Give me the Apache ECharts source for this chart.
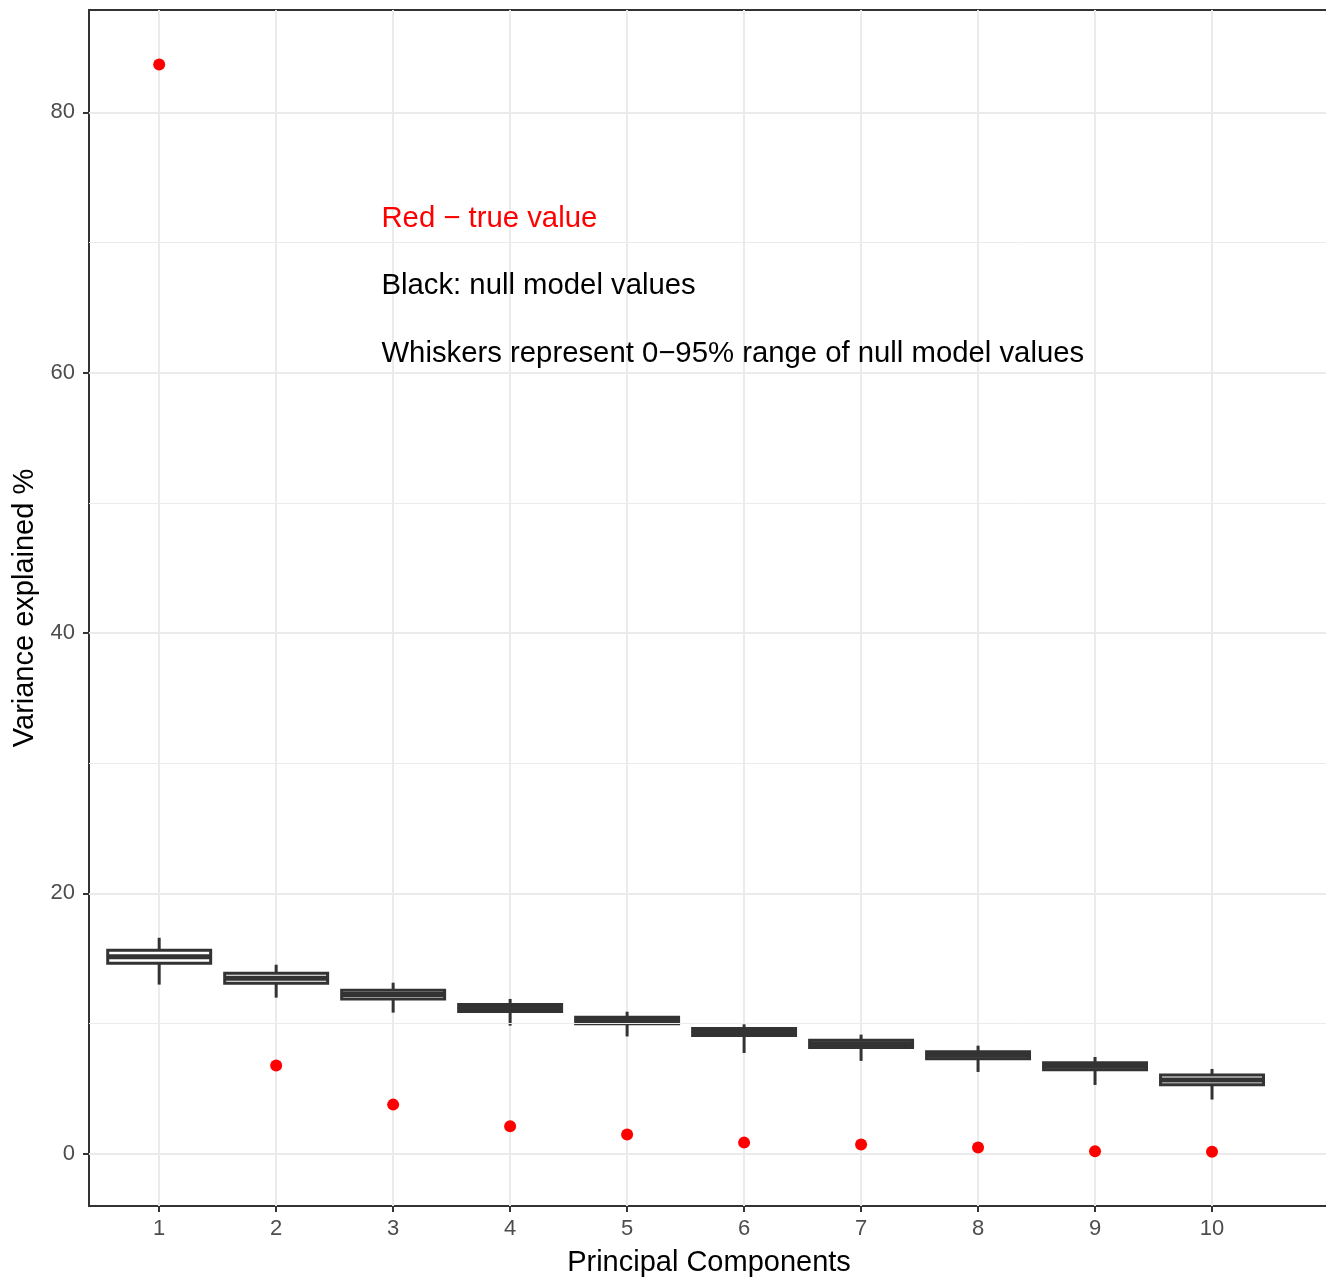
<!DOCTYPE html>
<html>
<head>
<meta charset="utf-8">
<title>Variance explained by principal components</title>
<script src="https://cdn.jsdelivr.net/npm/echarts@6/dist/echarts.min.js"></script>
<style>
  html, body { margin: 0; padding: 0; background: #ffffff; }
  #chart { width: 1326px; height: 1278px; }
</style>
</head>
<body>
<div id="chart"></div>
<script>
// Principal components on the x axis
const components = [1, 2, 3, 4, 5, 6, 7, 8, 9, 10];

// Observed variance explained (%) per component
const trueValues = [83.69, 6.76, 3.76, 2.10, 1.46, 0.84, 0.69, 0.46, 0.18, 0.13];

// Null model distribution per component: whisker ends, quartiles, median
const nullLow    = [12.98, 11.98, 10.83, 9.83, 9.00, 7.73, 7.12, 6.27, 5.27, 4.15];
const nullQ1     = [14.63, 13.09, 11.88, 10.92, 9.97, 9.07, 8.15, 7.28, 6.43, 5.28];
const nullMedian = [15.12, 13.47, 12.22, 11.19, 10.23, 9.34, 8.43, 7.55, 6.70, 5.66];
const nullQ3     = [15.62, 13.86, 12.55, 11.45, 10.48, 9.61, 8.71, 7.82, 6.97, 6.03];
const nullHigh   = [16.58, 14.51, 13.13, 11.88, 10.90, 9.93, 9.14, 8.29, 7.42, 6.50];

// Axis ticks
const xTicks = [1, 2, 3, 4, 5, 6, 7, 8, 9, 10];
const yTicks = [0, 20, 40, 60, 80];
const yMinorTicks = [10, 30, 50, 70];

// Annotation lines, placed in data coordinates
const noteText = [
  'Red \u2212 true value',
  'Black: null model values',
  'Whiskers represent 0\u221295% range of null model values'
];
const noteX = [2.9, 2.9, 2.9];
const noteY = [71.85, 66.65, 61.45];
const noteColor = ['#FF0000', '#000000', '#000000'];

const FONT = "'Liberation Sans', Arial, Helvetica, sans-serif";
const INK = '#333333';
const GRID = '#EBEBEB';
const BOX_WIDTH = 0.88;

const boxData = components.map((c, i) =>
  [c, nullLow[i], nullQ1[i], nullMedian[i], nullQ3[i], nullHigh[i]]);
const pointData = components.map((c, i) => [c, trueValues[i]]);
const noteData = noteText.map((t, i) => [noteX[i], noteY[i], i]);

const chart = echarts.init(document.getElementById('chart'), null, { renderer: 'canvas' });

chart.setOption({
  animation: false,
  backgroundColor: '#ffffff',
  grid: {
    left: 89, top: 10, width: 1240, height: 1196,
    outerBoundsMode: 'none',
    containLabel: false,
    show: true, borderColor: INK, borderWidth: 2, backgroundColor: 'transparent'
  },
  xAxis: {
    type: 'value',
    min: 0.4, max: 11,
    name: 'Principal Components',
    nameLocation: 'middle',
    nameGap: 42,
    nameTextStyle: { fontFamily: FONT, fontSize: 29, color: '#000000' },
    axisLine: { show: false, onZero: false },
    axisTick: { show: true, length: 6, lineStyle: { color: INK, width: 2 }, customValues: xTicks },
    axisLabel: { fontFamily: FONT, fontSize: 22, color: '#4D4D4D', margin: 12, customValues: xTicks },
    splitLine: { show: true, lineStyle: { color: GRID, width: 2 } }
  },
  yAxis: {
    type: 'value',
    min: -4.03, max: 87.87,
    name: 'Variance explained %',
    nameLocation: 'middle',
    nameRotate: 90,
    nameGap: 48,
    nameTextStyle: { fontFamily: FONT, fontSize: 29, color: '#000000' },
    axisLine: { show: false, onZero: false },
    axisTick: { show: true, length: 6, lineStyle: { color: INK, width: 2 }, customValues: yTicks },
    axisLabel: { fontFamily: FONT, fontSize: 22, color: '#4D4D4D', margin: 14, customValues: yTicks },
    splitLine: { show: true, lineStyle: { color: GRID, width: 2 } }
  },
  series: [
    {
      // minor horizontal grid lines
      type: 'line',
      data: [],
      z: 1,
      silent: true,
      markLine: {
        silent: true,
        symbol: ['none', 'none'],
        label: { show: false },
        lineStyle: { color: GRID, width: 1, type: 'solid' },
        data: yMinorTicks.map(v => ({ yAxis: v }))
      }
    },
    {
      // null model boxes with whiskers
      type: 'custom',
      z: 3,
      data: boxData,
      encode: { x: 0, y: [1, 2, 3, 4, 5] },
      renderItem: function (params, api) {
        const x = api.value(0);
        const half = api.size([BOX_WIDTH, 0])[0] / 2;
        const pLow = api.coord([x, api.value(1)]);
        const pQ1 = api.coord([x, api.value(2)]);
        const pMed = api.coord([x, api.value(3)]);
        const pQ3 = api.coord([x, api.value(4)]);
        const pHigh = api.coord([x, api.value(5)]);
        const cx = pMed[0];
        return {
          type: 'group',
          children: [
            { type: 'line', shape: { x1: cx, y1: pQ3[1], x2: cx, y2: pHigh[1] },
              style: { stroke: INK, lineWidth: 3 } },
            { type: 'line', shape: { x1: cx, y1: pQ1[1], x2: cx, y2: pLow[1] },
              style: { stroke: INK, lineWidth: 3 } },
            { type: 'rect', shape: { x: cx - half, y: pQ3[1], width: half * 2, height: pQ1[1] - pQ3[1] },
              style: { fill: '#ffffff', stroke: INK, lineWidth: 3 } },
            { type: 'line', shape: { x1: cx - half, y1: pMed[1], x2: cx + half, y2: pMed[1] },
              style: { stroke: INK, lineWidth: 5 } }
          ]
        };
      }
    },
    {
      // observed values
      type: 'scatter',
      z: 4,
      data: pointData,
      symbol: 'circle',
      symbolSize: 12,
      itemStyle: { color: '#FF0000', opacity: 1 }
    },
    {
      // annotation text
      type: 'custom',
      z: 5,
      silent: true,
      data: noteData,
      encode: { x: 0, y: 1 },
      renderItem: function (params, api) {
        const p = api.coord([api.value(0), api.value(1)]);
        const i = api.value(2);
        return {
          type: 'text',
          x: p[0], y: p[1],
          style: {
            text: noteText[i],
            fill: noteColor[i],
            fontFamily: FONT,
            fontSize: 29.3,
            align: 'left',
            verticalAlign: 'middle'
          }
        };
      }
    }
  ]
});
</script>
</body>
</html>
